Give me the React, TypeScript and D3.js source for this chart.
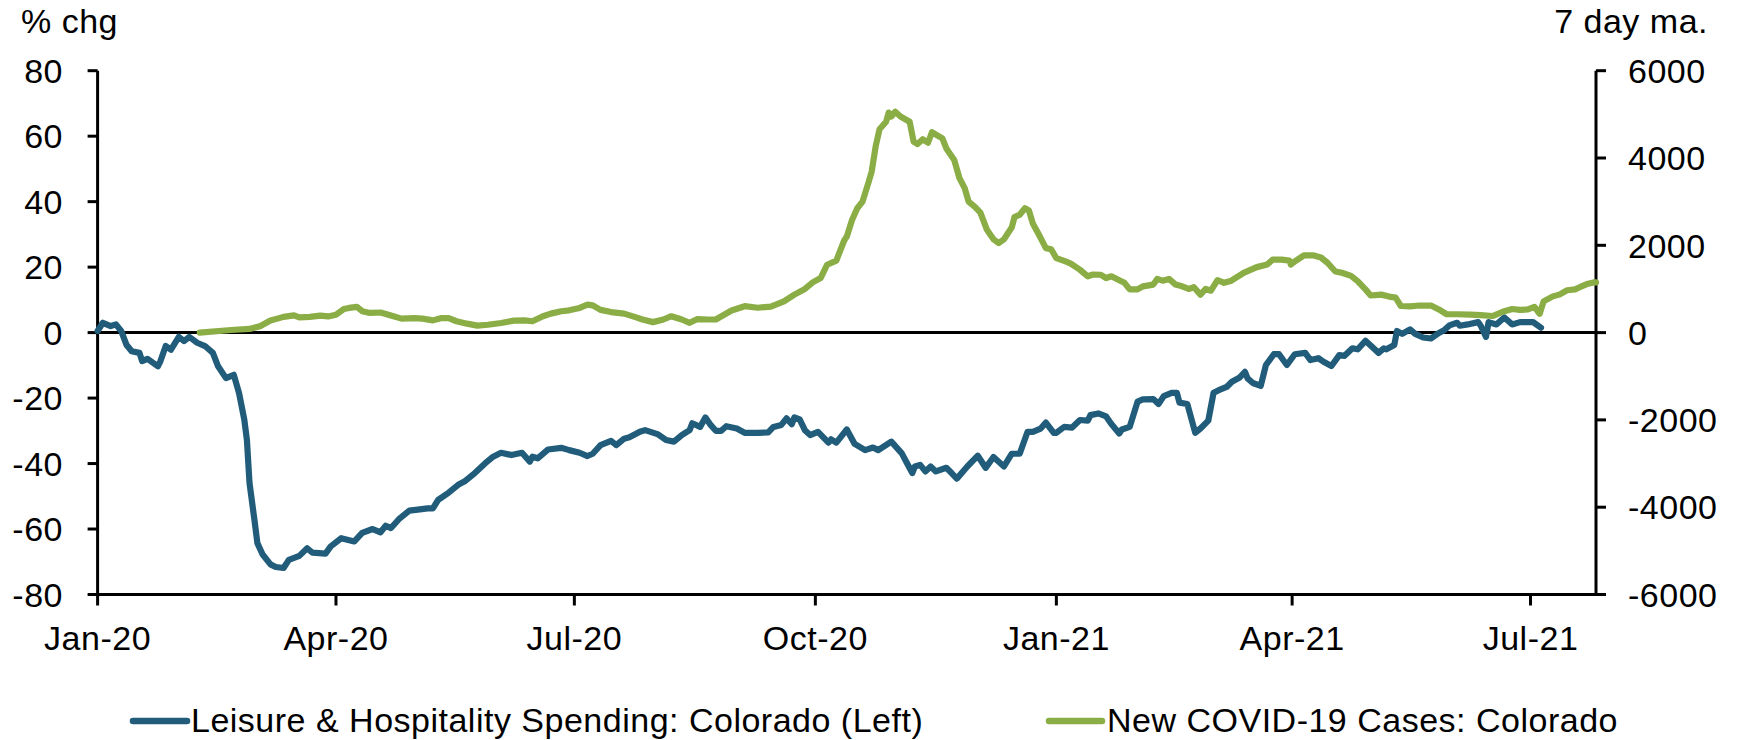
import React from 'react';
import * as d3 from 'd3';

// days since 2020-01-01, % chg
const leisureSeries: [number, number][] = [
  [0, 0.5], [2, 3], [5, 2], [7, 2.5], [9, 0.5], [11, -3.7], [13, -5.7], [16, -6.2], [17, -8.7], [19, -8],
  [23, -10.3], [24, -8.7], [26, -4.1], [28, -5.2], [31, -1.3], [33, -2.6], [35, -1.3], [38, -3.1], [41, -4.1],
  [44, -6.2], [46, -10.3], [49, -13.9], [52, -12.9], [54, -18.5], [56, -26.6], [57, -32.8], [58, -46], [60, -58],
  [61, -64.3], [63, -67.8], [66, -70.8], [68, -71.6], [71, -71.9], [73, -69.4], [77, -68.2], [80, -65.9],
  [82, -67.2], [87, -67.5], [89, -65.3], [93, -62.8], [98, -63.8], [101, -61.2], [105, -60], [108, -61],
  [110, -59], [112, -59.7], [115, -57], [119, -54.4], [123, -54], [126, -53.7], [128, -53.7], [130, -51.1],
  [134, -48.9], [138, -46.3], [140, -45.5], [144, -42.9], [148, -39.9], [151, -37.9], [154, -36.7], [158, -37.4],
  [162, -36.7], [165, -39.4], [166, -37.9], [168, -38.4], [172, -35.7], [177, -35.2], [180, -35.9], [184, -36.7],
  [187, -37.7], [189, -37], [192, -34.4], [196, -33.1], [198, -34.4], [201, -32.4], [203, -32], [207, -30.3],
  [209, -29.8], [214, -31.1], [217, -32.8], [220, -33.3], [223, -31.3], [226, -29.8], [227, -27.7], [230, -28.8],
  [232, -25.9], [234, -28.2], [236, -30], [238, -30], [240, -28.6], [244, -29.3], [247, -30.6], [252, -30.6],
  [256, -30.5], [258, -28.8], [261, -28.2], [263, -26.2], [265, -28], [266, -25.9], [268, -26.5], [270, -29.8],
  [272, -31.3], [275, -30.3], [279, -33.6], [280, -32.6], [282, -33.6], [286, -29.6], [289, -34], [293, -35.9],
  [296, -35.1], [298, -35.9], [303, -33.3], [307, -36.9], [309, -39.9], [311, -42.9], [312, -40.9], [314, -40.4],
  [316, -42.4], [318, -40.9], [320, -42.4], [324, -41.3], [326, -42.9], [328, -44.6], [332, -40.9], [336, -37.6],
  [339, -41.3], [342, -38], [346, -40.9], [349, -37], [352, -37], [355, -30.3], [357, -30.3], [360, -29.3],
  [362, -27.5], [365, -30.6], [366, -30.6], [369, -28.8], [372, -29], [375, -26.7], [378, -26.9], [379, -25.2],
  [382, -24.7], [385, -25.6], [387, -27.9], [390, -30.8], [391, -29.6], [394, -28.8], [397, -21.1], [399, -20.4],
  [403, -20.3], [405, -21.8], [407, -19.4], [410, -18.4], [412, -18.4], [413, -21.4], [416, -21.8], [419, -30.6],
  [421, -29.3], [424, -26.9], [426, -18.4], [428, -17.6], [431, -16.6], [433, -15], [436, -13.7], [438, -12],
  [439, -14], [441, -15.4], [444, -16.3], [446, -9.9], [449, -6.6], [451, -6.6], [454, -9.9], [457, -6.6],
  [461, -6.2], [463, -8.4], [466, -7.8], [468, -8.9], [471, -10.2], [474, -6.9], [476, -7.1], [479, -4.8],
  [481, -5.1], [484, -2.5], [489, -6.2], [491, -4.8], [492, -5.1], [495, -3.8], [496, 0.5], [498, -0.4],
  [501, 1], [503, -0.4], [506, -1.5], [509, -1.8], [512, -0.1], [514, 0.7], [516, 2.2], [519, 3], [520, 2.1],
  [523, 2.5], [527, 3.2], [528, 2.1], [530, -1.3], [531, 3.2], [534, 2.5], [537, 4.6], [540, 2.5], [543, 3.2],
  [546, 3.2], [548, 3.2], [551, 1.5],
];

// days since 2020-01-01, new cases 7 day ma.
const casesSeries: [number, number][] = [
  [39, 0], [51, 60], [58, 85], [62, 145], [66, 275], [71, 360], [75, 395], [77, 350], [81, 360], [85, 390],
  [88, 370], [91, 410], [94, 540], [96, 565], [99, 590], [101, 490], [104, 450], [108, 460], [112, 390],
  [116, 320], [121, 330], [124, 320], [128, 280], [131, 330], [134, 330], [137, 260], [141, 205], [145, 160],
  [149, 180], [154, 220], [159, 275], [163, 280], [166, 260], [170, 375], [173, 435], [177, 490], [180, 510],
  [184, 565], [187, 640], [189, 625], [192, 520], [196, 470], [201, 435], [205, 360], [208, 300], [212, 240],
  [216, 300], [219, 375], [223, 300], [226, 225], [229, 310], [233, 300], [236, 300], [242, 505], [247, 605],
  [252, 570], [257, 595], [262, 715], [266, 870], [270, 1000], [273, 1150], [276, 1250], [278.5, 1555],
  [282, 1650], [285, 2110], [286, 2200], [288, 2580], [290, 2850], [292, 3000], [294, 3385], [295.5, 3690],
  [297, 4260], [298.5, 4660], [301, 4830], [302, 5040], [303, 4950], [304.5, 5060], [306.5, 4950], [310, 4830],
  [311.5, 4375], [313, 4320], [315, 4430], [317, 4350], [318.5, 4590], [322.5, 4450], [324, 4220], [327, 3955],
  [329, 3540], [331, 3310], [332.5, 3000], [335, 2875], [337, 2750], [339.5, 2355], [342, 2140], [344, 2050],
  [346, 2140], [349, 2415], [350, 2645], [352, 2700], [354, 2850], [355.5, 2800], [357, 2500], [359, 2280],
  [362, 1935], [364, 1910], [366, 1705], [369.5, 1630], [371.5, 1580], [375, 1440], [378, 1290], [380, 1330],
  [383, 1325], [385, 1250], [387, 1290], [390, 1200], [392, 1140], [394, 990], [397, 990], [399, 1060],
  [403, 1100], [404.5, 1230], [406.5, 1190], [409, 1230], [411.5, 1100], [414, 1060], [416.5, 1000],
  [418.5, 1040], [421, 870], [423, 1000], [425, 960], [427.5, 1200], [430, 1140], [432.5, 1180], [437.5, 1370],
  [442.5, 1500], [446.5, 1560], [448.5, 1670], [452, 1670], [455, 1650], [455.5, 1560], [457.5, 1650],
  [460.5, 1770], [464, 1770], [467, 1720], [469.5, 1600], [472.5, 1400], [475, 1370], [478.5, 1300], [481, 1180],
  [484, 990], [486, 850], [490, 870], [493, 825], [495.5, 800], [497.5, 610], [501, 600], [504.5, 620], [509, 620],
  [512, 530], [515, 420], [519, 420], [524, 410], [528, 400], [532.5, 380], [537, 490], [540, 540], [543, 520],
  [546, 530], [548.5, 590], [550.5, 430], [552, 715], [555.5, 830], [558, 870], [561, 970], [564, 990],
  [566, 1045], [569, 1120], [571, 1150], [572, 1150],
];

const leftTicks = [-80, -60, -40, -20, 0, 20, 40, 60, 80];
const rightTicks = [-6000, -4000, -2000, 0, 2000, 4000, 6000];
const legendLabels = ['Leisure & Hospitality Spending: Colorado (Left)', 'New COVID-19 Cases: Colorado'];

const BASE = Date.UTC(2020, 0, 1);
const toDate = (d: number) => new Date(BASE + d * 86400000);

const W = 1742;
const H = 740;
const left = 97.6;
const right = 1596;
const top = 70.7;
const bottom = 594.5;
const blue = '#215d7b';
const green = '#8aad45';
const font = '"Liberation Sans", Arial, sans-serif';

export default function App() {
  const x = d3.scaleUtc().domain([toDate(0), toDate(572)]).range([left, right]);
  const yL = d3.scaleLinear().domain([-80, 80]).range([bottom, top]);
  const yR = d3.scaleLinear().domain([-6000, 6000]).range([bottom, top]);
  const xTicks = d3.utcMonth.every(3)!.range(toDate(0), toDate(573));
  const fmt = d3.utcFormat('%b-%y');

  const blueLine = d3.line<[number, number]>()
    .x(d => x(toDate(d[0])))
    .y(d => yL(d[1]));
  const greenLine = d3.line<[number, number]>()
    .x(d => x(toDate(d[0])))
    .y(d => yR(d[1]));

  const txt = { fontFamily: font, fontSize: 34, letterSpacing: 0.5, fill: '#000' };

  return (
    <>
      <style>{'body{margin:0}'}</style>
      <svg width={W} height={H} style={{ display: 'block', background: '#fff' }}>
        <text x={21} y={33} style={txt}>% chg</text>
        <text x={1708} y={33} textAnchor="end" style={txt}>7 day ma.</text>

        {/* left axis */}
        <line x1={left} x2={left} y1={top} y2={bottom} stroke="#000" strokeWidth={3} />
        {leftTicks.map(t => (
          <g key={'l' + t}>
            <line x1={left - 10} x2={left} y1={yL(t)} y2={yL(t)} stroke="#000" strokeWidth={3} />
            <text x={63} y={yL(t)} dy="0.36em" textAnchor="end" style={txt}>{t}</text>
          </g>
        ))}

        {/* right axis */}
        <line x1={right} x2={right} y1={top} y2={bottom} stroke="#000" strokeWidth={3} />
        {rightTicks.map(t => (
          <g key={'r' + t}>
            <line x1={right} x2={right + 10} y1={yR(t)} y2={yR(t)} stroke="#000" strokeWidth={3} />
            <text x={1628} y={yR(t)} dy="0.36em" style={txt}>{t}</text>
          </g>
        ))}

        {/* bottom axis */}
        <line x1={left} x2={right} y1={bottom} y2={bottom} stroke="#000" strokeWidth={3} />
        {xTicks.map(t => (
          <g key={t.toISOString()}>
            <line x1={x(t)} x2={x(t)} y1={bottom} y2={bottom + 11} stroke="#000" strokeWidth={3} />
            <text x={x(t)} y={650} textAnchor="middle" style={txt}>{fmt(t)}</text>
          </g>
        ))}

        {/* zero line */}
        <line x1={left} x2={right} y1={yL(0)} y2={yL(0)} stroke="#000" strokeWidth={3} />

        <path d={blueLine(leisureSeries) ?? ''} fill="none" stroke={blue} strokeWidth={6.2} strokeLinejoin="round" strokeLinecap="round" />
        <path d={greenLine(casesSeries) ?? ''} fill="none" stroke={green} strokeWidth={6.2} strokeLinejoin="round" strokeLinecap="round" />

        {/* legend */}
        <line x1={133} x2={187} y1={721} y2={721} stroke={blue} strokeWidth={6.5} strokeLinecap="round" />
        <text x={191} y={732} style={txt}>{legendLabels[0]}</text>
        <line x1={1049} x2={1102} y1={721} y2={721} stroke={green} strokeWidth={6.5} strokeLinecap="round" />
        <text x={1107} y={732} style={txt}>{legendLabels[1]}</text>
      </svg>
    </>
  );
}
